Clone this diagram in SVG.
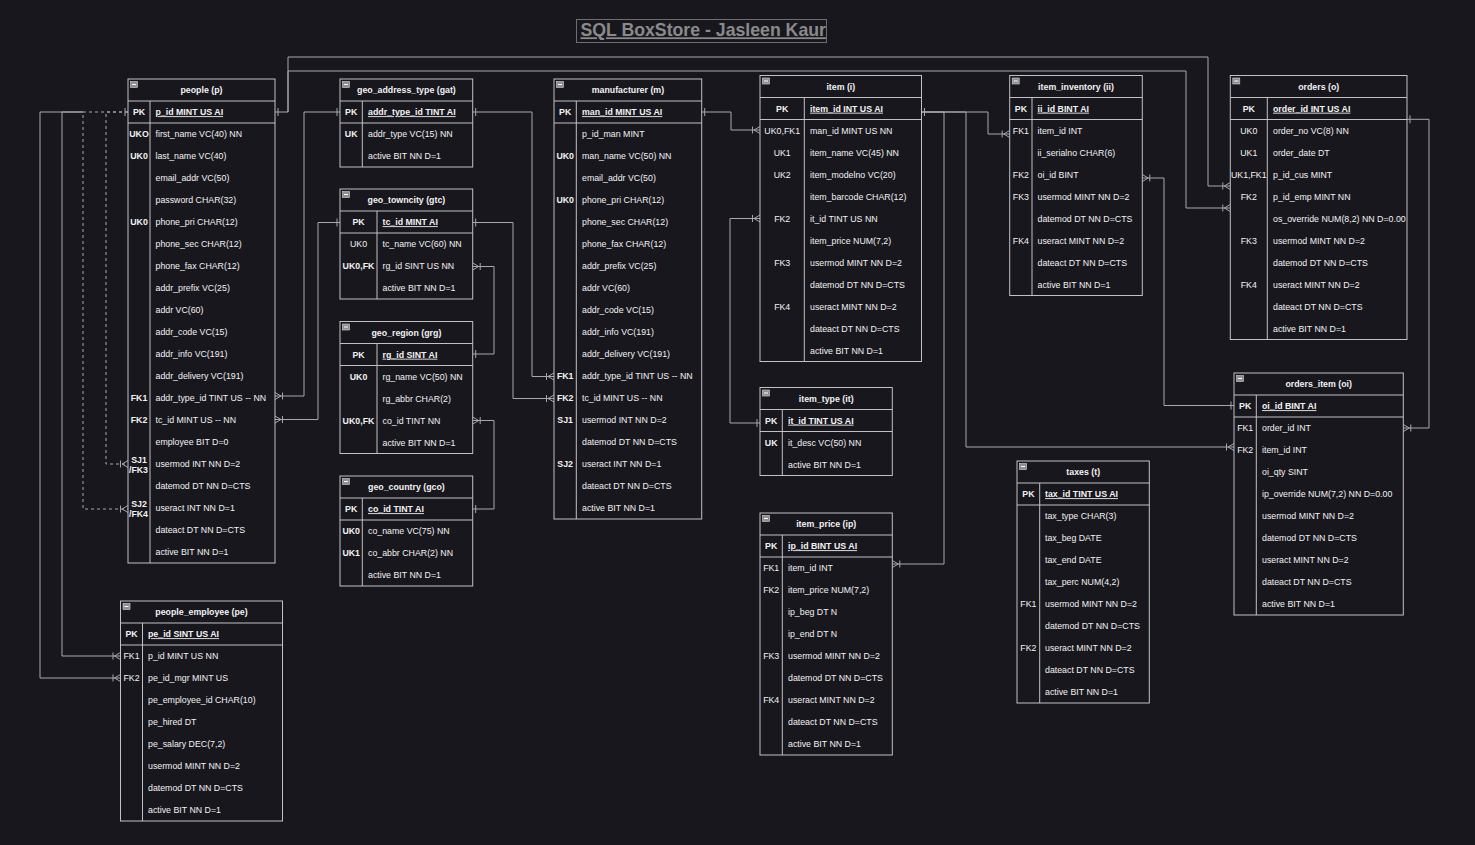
<svg xmlns="http://www.w3.org/2000/svg" xmlns:xlink="http://www.w3.org/1999/xlink" width="1475" height="845" viewBox="0 0 1475 845">
<style>
.bg{fill:#19171e}
.tb{fill:#19171e;stroke:#c2c2c2;stroke-width:1}
.ln{fill:none;stroke:#c2c2c2;stroke-width:1}
.t{font-family:"Liberation Sans",Arial,Helvetica,sans-serif;font-size:8.8px;fill:#f2f2f2}
.b{font-weight:bold}
.u{text-decoration:underline}
.c{text-anchor:middle}
.cn{fill:none;stroke:#a8a8a8;stroke-width:1}
.d{stroke-dasharray:3 3}
.mk{fill:none;stroke:#a8a8a8;stroke-width:1}
.title{font-family:"Liberation Sans",Arial,Helvetica,sans-serif;font-size:17.7px;font-weight:bold;fill:#8a8a8a;text-decoration:underline}
</style>
<defs>
<marker id="many" viewBox="0 0 12 10" refX="12" refY="5" markerWidth="12" markerHeight="10" markerUnits="userSpaceOnUse" orient="auto">
<path class="mk" d="M6,5 L12,1.5 M6,5 L12,8.5 M4.5,1.5 V8.5"/>
</marker>
<marker id="one" viewBox="0 0 12 10" refX="12" refY="5" markerWidth="12" markerHeight="10" markerUnits="userSpaceOnUse" orient="auto-start-reverse">
<path class="mk" d="M9,1 V9"/>
</marker>
<g id="ci"><rect x="0" y="0" width="7" height="6" fill="#8e8e8e" stroke="#d6d6d6" stroke-width="0.6"/><path d="M1.5,3 H5.5" stroke="#ffffff" stroke-width="1"/></g>
</defs>
<rect class="bg" x="0" y="0" width="1475" height="845"/>

<g id="title">
<rect x="576.5" y="19.5" width="250" height="23" fill="none" stroke="#6e6e6e" stroke-width="1"/>
<text class="title" x="580.5" y="36.3">SQL BoxStore - Jasleen Kaur</text>
</g>

<g id="connectors">
<path class="cn" marker-start="url(#one)" marker-end="url(#many)" d="M340,112 H304 V396 H275"/>
<path class="cn" marker-start="url(#one)" marker-end="url(#many)" d="M340,222.5 H318 V419.5 H275"/>
<path class="cn" marker-start="url(#one)" marker-end="url(#many)" d="M472.7,354 H494 V266.5 H472.7"/>
<path class="cn" marker-start="url(#one)" marker-end="url(#many)" d="M472.7,509 H494 V420.5 H472.7"/>
<path class="cn" marker-start="url(#one)" marker-end="url(#many)" d="M472.7,112 H532 V376.5 H554"/>
<path class="cn" marker-start="url(#one)" marker-end="url(#many)" d="M472.7,222.5 H513 V398.5 H554"/>
<path class="cn" marker-start="url(#one)" marker-end="url(#many)" d="M701.7,112 H731 V130 H760"/>
<path class="cn" marker-start="url(#one)" marker-end="url(#many)" d="M760,423 H730 V218.5 H760"/>
<path class="cn" marker-start="url(#one)" marker-end="url(#many)" d="M921.5,112 H988 V134 H1009.7"/>
<path class="cn" marker-end="url(#many)" d="M921.5,112 H944 V564 H892.3"/>
<path class="cn" marker-end="url(#many)" d="M921.5,112 H966 V447 H1234"/>
<path class="cn" marker-start="url(#one)" marker-end="url(#many)" d="M1234,405.5 H1164 V178 H1142.3"/>
<path class="cn" marker-start="url(#one)" marker-end="url(#many)" d="M1407,119.3 H1429 V428 H1403.3"/>
<path class="cn" marker-start="url(#one)" marker-end="url(#many)" d="M275,112 H288 V57 H1208 V186 H1230.3"/>
<path class="cn" marker-end="url(#many)" d="M288,112 V71 H1186 V208 H1230.3"/>
<path class="cn" marker-end="url(#many)" d="M83,112 H62 V656 H120.5"/>
<path class="cn" marker-end="url(#many)" d="M83,112 H40 V678 H120.5"/>
<path class="cn d" marker-start="url(#one)" marker-end="url(#many)" d="M128,112 H106 V464 H128"/>
<path class="cn d" marker-end="url(#many)" d="M128,112 H83 V509 H128"/>
</g>

<g id="people">
<rect class="tb" x="128" y="79" width="147" height="484"/>
<path class="ln" d="M128,101 H275 M128,123 H275 M150,101 V563"/>
<use xlink:href="#ci" x="130.5" y="81.5"/>
<text class="t b c" x="201.5" y="93.2">people (p)</text>
<text class="t b c" x="139" y="115.2">PK</text>
<text class="t b u" x="155.5" y="115.2">p_id MINT US AI</text>
<text class="t b c" x="139" y="137.2">UKO</text><text class="t" x="155.5" y="137.2">first_name VC(40) NN</text>
<text class="t b c" x="139" y="159.2">UK0</text><text class="t" x="155.5" y="159.2">last_name VC(40)</text>
<text class="t" x="155.5" y="181.2">email_addr VC(50)</text>
<text class="t" x="155.5" y="203.2">password CHAR(32)</text>
<text class="t b c" x="139" y="225.2">UK0</text><text class="t" x="155.5" y="225.2">phone_pri CHAR(12)</text>
<text class="t" x="155.5" y="247.2">phone_sec CHAR(12)</text>
<text class="t" x="155.5" y="269.2">phone_fax CHAR(12)</text>
<text class="t" x="155.5" y="291.2">addr_prefix VC(25)</text>
<text class="t" x="155.5" y="313.2">addr VC(60)</text>
<text class="t" x="155.5" y="335.2">addr_code VC(15)</text>
<text class="t" x="155.5" y="357.2">addr_info VC(191)</text>
<text class="t" x="155.5" y="379.2">addr_delivery VC(191)</text>
<text class="t b c" x="139" y="401.2">FK1</text><text class="t" x="155.5" y="401.2">addr_type_id TINT US -- NN</text>
<text class="t b c" x="139" y="423.2">FK2</text><text class="t" x="155.5" y="423.2">tc_id MINT US -- NN</text>
<text class="t" x="155.5" y="445.2">employee BIT D=0</text>
<text class="t b c" x="139" y="462.9">SJ1</text><text class="t b c" x="138.5" y="472.5">/FK3</text><text class="t" x="155.5" y="467.2">usermod INT NN D=2</text>
<text class="t" x="155.5" y="489.2">datemod DT NN D=CTS</text>
<text class="t b c" x="139" y="506.5">SJ2</text><text class="t b c" x="138.5" y="517.2">/FK4</text><text class="t" x="155.5" y="511.2">useract INT NN D=1</text>
<text class="t" x="155.5" y="533.2">dateact DT NN D=CTS</text>
<text class="t" x="155.5" y="555.2">active BIT NN D=1</text>
</g>

<g id="people_employee">
<rect class="tb" x="120.5" y="601" width="162" height="220"/>
<path class="ln" d="M120.5,623 H282.5 M120.5,645 H282.5 M142.5,623 V821"/>
<use xlink:href="#ci" x="123" y="603.5"/>
<text class="t b c" x="201.5" y="615.2">people_employee (pe)</text>
<text class="t b c" x="131.5" y="637.2">PK</text>
<text class="t b u" x="148" y="637.2">pe_id SINT US AI</text>
<text class="t c" x="131.5" y="659.2">FK1</text><text class="t" x="148" y="659.2">p_id MINT US NN</text>
<text class="t c" x="131.5" y="681.2">FK2</text><text class="t" x="148" y="681.2">pe_id_mgr MINT US</text>
<text class="t" x="148" y="703.2">pe_employee_id CHAR(10)</text>
<text class="t" x="148" y="725.2">pe_hired DT</text>
<text class="t" x="148" y="747.2">pe_salary DEC(7,2)</text>
<text class="t" x="148" y="769.2">usermod MINT NN D=2</text>
<text class="t" x="148" y="791.2">datemod DT NN D=CTS</text>
<text class="t" x="148" y="813.2">active BIT NN D=1</text>
</g>

<g id="geo_address_type">
<rect class="tb" x="340" y="79" width="132.7" height="88"/>
<path class="ln" d="M340,101 H472.7 M340,123 H472.7 M362.3,101 V167"/>
<use xlink:href="#ci" x="342.5" y="81.5"/>
<text class="t b c" x="406.4" y="93.2">geo_address_type (gat)</text>
<text class="t b c" x="351.2" y="115.2">PK</text>
<text class="t b u" x="368" y="115.2">addr_type_id TINT AI</text>
<text class="t b c" x="351.2" y="137.2">UK</text><text class="t" x="368" y="137.2">addr_type VC(15) NN</text>
<text class="t" x="368" y="159.2">active BIT NN D=1</text>
</g>

<g id="geo_towncity">
<rect class="tb" x="340" y="189" width="132.7" height="110"/>
<path class="ln" d="M340,211 H472.7 M340,233 H472.7 M377,211 V299"/>
<use xlink:href="#ci" x="342.5" y="191.5"/>
<text class="t b c" x="406.4" y="203.2">geo_towncity (gtc)</text>
<text class="t b c" x="358.5" y="225.2">PK</text>
<text class="t b u" x="382.5" y="225.2">tc_id MINT AI</text>
<text class="t c" x="358.5" y="247.2">UK0</text><text class="t" x="382.5" y="247.2">tc_name VC(60) NN</text>
<text class="t b c" x="358.5" y="269.2">UK0,FK</text><text class="t" x="382.5" y="269.2">rg_id SINT US NN</text>
<text class="t" x="382.5" y="291.2">active BIT NN D=1</text>
</g>

<g id="geo_region">
<rect class="tb" x="340" y="321.5" width="132.7" height="132"/>
<path class="ln" d="M340,343.5 H472.7 M340,365.5 H472.7 M377,343.5 V453.5"/>
<use xlink:href="#ci" x="342.5" y="324"/>
<text class="t b c" x="406.4" y="335.7">geo_region (grg)</text>
<text class="t b c" x="358.5" y="357.7">PK</text>
<text class="t b u" x="382.5" y="357.7">rg_id SINT AI</text>
<text class="t b c" x="358.5" y="379.7">UK0</text><text class="t" x="382.5" y="379.7">rg_name VC(50) NN</text>
<text class="t" x="382.5" y="401.7">rg_abbr CHAR(2)</text>
<text class="t b c" x="358.5" y="423.7">UK0,FK</text><text class="t" x="382.5" y="423.7">co_id TINT NN</text>
<text class="t" x="382.5" y="445.7">active BIT NN D=1</text>
</g>

<g id="geo_country">
<rect class="tb" x="340" y="476" width="132.7" height="110"/>
<path class="ln" d="M340,498 H472.7 M340,520 H472.7 M362.3,498 V586"/>
<use xlink:href="#ci" x="342.5" y="478.5"/>
<text class="t b c" x="406.4" y="490.2">geo_country (gco)</text>
<text class="t b c" x="351.2" y="512.2">PK</text>
<text class="t b u" x="368" y="512.2">co_id TINT AI</text>
<text class="t b c" x="351.2" y="534.2">UK0</text><text class="t" x="368" y="534.2">co_name VC(75) NN</text>
<text class="t b c" x="351.2" y="556.2">UK1</text><text class="t" x="368" y="556.2">co_abbr CHAR(2) NN</text>
<text class="t" x="368" y="578.2">active BIT NN D=1</text>
</g>

<g id="manufacturer">
<rect class="tb" x="554" y="79" width="147.7" height="440"/>
<path class="ln" d="M554,101 H701.7 M554,123 H701.7 M576.3,101 V519"/>
<use xlink:href="#ci" x="556.5" y="81.5"/>
<text class="t b c" x="627.9" y="93.2">manufacturer (m)</text>
<text class="t b c" x="565.2" y="115.2">PK</text>
<text class="t b u" x="582" y="115.2">man_id MINT US AI</text>
<text class="t" x="582" y="137.2">p_id_man MINT</text>
<text class="t b c" x="565.2" y="159.2">UK0</text><text class="t" x="582" y="159.2">man_name VC(50) NN</text>
<text class="t" x="582" y="181.2">email_addr VC(50)</text>
<text class="t b c" x="565.2" y="203.2">UK0</text><text class="t" x="582" y="203.2">phone_pri CHAR(12)</text>
<text class="t" x="582" y="225.2">phone_sec CHAR(12)</text>
<text class="t" x="582" y="247.2">phone_fax CHAR(12)</text>
<text class="t" x="582" y="269.2">addr_prefix VC(25)</text>
<text class="t" x="582" y="291.2">addr VC(60)</text>
<text class="t" x="582" y="313.2">addr_code VC(15)</text>
<text class="t" x="582" y="335.2">addr_info VC(191)</text>
<text class="t" x="582" y="357.2">addr_delivery VC(191)</text>
<text class="t b c" x="565.2" y="379.2">FK1</text><text class="t" x="582" y="379.2">addr_type_id TINT US -- NN</text>
<text class="t b c" x="565.2" y="401.2">FK2</text><text class="t" x="582" y="401.2">tc_id MINT US -- NN</text>
<text class="t b c" x="565.2" y="423.2">SJ1</text><text class="t" x="582" y="423.2">usermod INT NN D=2</text>
<text class="t" x="582" y="445.2">datemod DT NN D=CTS</text>
<text class="t b c" x="565.2" y="467.2">SJ2</text><text class="t" x="582" y="467.2">useract INT NN D=1</text>
<text class="t" x="582" y="489.2">dateact DT NN D=CTS</text>
<text class="t" x="582" y="511.2">active BIT NN D=1</text>
</g>

<g id="item">
<rect class="tb" x="760" y="75.5" width="161.5" height="286"/>
<path class="ln" d="M760,97.5 H921.5 M760,119.5 H921.5 M804.3,97.5 V361.5"/>
<use xlink:href="#ci" x="762.5" y="78"/>
<text class="t b c" x="840.8" y="89.7">item (i)</text>
<text class="t b c" x="782.2" y="111.7">PK</text>
<text class="t b u" x="810" y="111.7">item_id INT US AI</text>
<text class="t c" x="782.2" y="133.7">UK0,FK1</text><text class="t" x="810" y="133.7">man_id MINT US NN</text>
<text class="t c" x="782.2" y="155.7">UK1</text><text class="t" x="810" y="155.7">item_name VC(45) NN</text>
<text class="t c" x="782.2" y="177.7">UK2</text><text class="t" x="810" y="177.7">item_modelno VC(20)</text>
<text class="t" x="810" y="199.7">item_barcode CHAR(12)</text>
<text class="t c" x="782.2" y="221.7">FK2</text><text class="t" x="810" y="221.7">it_id TINT US NN</text>
<text class="t" x="810" y="243.7">item_price NUM(7,2)</text>
<text class="t c" x="782.2" y="265.7">FK3</text><text class="t" x="810" y="265.7">usermod MINT NN D=2</text>
<text class="t" x="810" y="287.7">datemod DT NN D=CTS</text>
<text class="t c" x="782.2" y="309.7">FK4</text><text class="t" x="810" y="309.7">useract MINT NN D=2</text>
<text class="t" x="810" y="331.7">dateact DT NN D=CTS</text>
<text class="t" x="810" y="353.7">active BIT NN D=1</text>
</g>

<g id="item_type">
<rect class="tb" x="760" y="387.5" width="132.3" height="88"/>
<path class="ln" d="M760,409.5 H892.3 M760,431.5 H892.3 M782.3,409.5 V475.5"/>
<use xlink:href="#ci" x="762.5" y="390"/>
<text class="t b c" x="826.2" y="401.7">item_type (it)</text>
<text class="t b c" x="771.2" y="423.7">PK</text>
<text class="t b u" x="788" y="423.7">it_id TINT US AI</text>
<text class="t b c" x="771.2" y="445.7">UK</text><text class="t" x="788" y="445.7">it_desc VC(50) NN</text>
<text class="t" x="788" y="467.7">active BIT NN D=1</text>
</g>

<g id="item_price">
<rect class="tb" x="760" y="513" width="132.3" height="242"/>
<path class="ln" d="M760,535 H892.3 M760,557 H892.3 M782.3,535 V755"/>
<use xlink:href="#ci" x="762.5" y="515.5"/>
<text class="t b c" x="826.2" y="527.2">item_price (ip)</text>
<text class="t b c" x="771.2" y="549.2">PK</text>
<text class="t b u" x="788" y="549.2">ip_id BINT US AI</text>
<text class="t c" x="771.2" y="571.2">FK1</text><text class="t" x="788" y="571.2">item_id INT</text>
<text class="t c" x="771.2" y="593.2">FK2</text><text class="t" x="788" y="593.2">item_price NUM(7,2)</text>
<text class="t" x="788" y="615.2">ip_beg DT N</text>
<text class="t" x="788" y="637.2">ip_end DT N</text>
<text class="t c" x="771.2" y="659.2">FK3</text><text class="t" x="788" y="659.2">usermod MINT NN D=2</text>
<text class="t" x="788" y="681.2">datemod DT NN D=CTS</text>
<text class="t c" x="771.2" y="703.2">FK4</text><text class="t" x="788" y="703.2">useract MINT NN D=2</text>
<text class="t" x="788" y="725.2">dateact DT NN D=CTS</text>
<text class="t" x="788" y="747.2">active BIT NN D=1</text>
</g>

<g id="taxes">
<rect class="tb" x="1017" y="461" width="132.3" height="242"/>
<path class="ln" d="M1017,483 H1149.3 M1017,505 H1149.3 M1039.7,483 V703"/>
<use xlink:href="#ci" x="1019.5" y="463.5"/>
<text class="t b c" x="1083.2" y="475.2">taxes (t)</text>
<text class="t b c" x="1028.4" y="497.2">PK</text>
<text class="t b u" x="1045" y="497.2">tax_id TINT US AI</text>
<text class="t" x="1045" y="519.2">tax_type CHAR(3)</text>
<text class="t" x="1045" y="541.2">tax_beg DATE</text>
<text class="t" x="1045" y="563.2">tax_end DATE</text>
<text class="t" x="1045" y="585.2">tax_perc NUM(4,2)</text>
<text class="t c" x="1028.4" y="607.2">FK1</text><text class="t" x="1045" y="607.2">usermod MINT NN D=2</text>
<text class="t" x="1045" y="629.2">datemod DT NN D=CTS</text>
<text class="t c" x="1028.4" y="651.2">FK2</text><text class="t" x="1045" y="651.2">useract MINT NN D=2</text>
<text class="t" x="1045" y="673.2">dateact DT NN D=CTS</text>
<text class="t" x="1045" y="695.2">active BIT NN D=1</text>
</g>

<g id="item_inventory">
<rect class="tb" x="1009.7" y="75.5" width="132.6" height="220"/>
<path class="ln" d="M1009.7,97.5 H1142.3 M1009.7,119.5 H1142.3 M1032,97.5 V295.5"/>
<use xlink:href="#ci" x="1012.2" y="78"/>
<text class="t b c" x="1076" y="89.7">item_inventory (ii)</text>
<text class="t b c" x="1020.9" y="111.7">PK</text>
<text class="t b u" x="1037.5" y="111.7">ii_id BINT AI</text>
<text class="t c" x="1020.9" y="133.7">FK1</text><text class="t" x="1037.5" y="133.7">item_id INT</text>
<text class="t" x="1037.5" y="155.7">ii_serialno CHAR(6)</text>
<text class="t c" x="1020.9" y="177.7">FK2</text><text class="t" x="1037.5" y="177.7">oi_id BINT</text>
<text class="t c" x="1020.9" y="199.7">FK3</text><text class="t" x="1037.5" y="199.7">usermod MINT NN D=2</text>
<text class="t" x="1037.5" y="221.7">datemod DT NN D=CTS</text>
<text class="t c" x="1020.9" y="243.7">FK4</text><text class="t" x="1037.5" y="243.7">useract MINT NN D=2</text>
<text class="t" x="1037.5" y="265.7">dateact DT NN D=CTS</text>
<text class="t" x="1037.5" y="287.7">active BIT NN D=1</text>
</g>

<g id="orders">
<rect class="tb" x="1230.3" y="75.5" width="176.7" height="264"/>
<path class="ln" d="M1230.3,97.5 H1407 M1230.3,119.5 H1407 M1267.3,97.5 V339.5"/>
<use xlink:href="#ci" x="1232.8" y="78"/>
<text class="t b c" x="1318.7" y="89.7">orders (o)</text>
<text class="t b c" x="1248.8" y="111.7">PK</text>
<text class="t b u" x="1273" y="111.7">order_id INT US AI</text>
<text class="t c" x="1248.8" y="133.7">UK0</text><text class="t" x="1273" y="133.7">order_no VC(8) NN</text>
<text class="t c" x="1248.8" y="155.7">UK1</text><text class="t" x="1273" y="155.7">order_date DT</text>
<text class="t c" x="1248.8" y="177.7">UK1,FK1</text><text class="t" x="1273" y="177.7">p_id_cus MINT</text>
<text class="t c" x="1248.8" y="199.7">FK2</text><text class="t" x="1273" y="199.7">p_id_emp MINT NN</text>
<text class="t" x="1273" y="221.7">os_override NUM(8,2) NN D=0.00</text>
<text class="t c" x="1248.8" y="243.7">FK3</text><text class="t" x="1273" y="243.7">usermod MINT NN D=2</text>
<text class="t" x="1273" y="265.7">datemod DT NN D=CTS</text>
<text class="t c" x="1248.8" y="287.7">FK4</text><text class="t" x="1273" y="287.7">useract MINT NN D=2</text>
<text class="t" x="1273" y="309.7">dateact DT NN D=CTS</text>
<text class="t" x="1273" y="331.7">active BIT NN D=1</text>
</g>

<g id="orders_item">
<rect class="tb" x="1234" y="373" width="169.3" height="242"/>
<path class="ln" d="M1234,395 H1403.3 M1234,417 H1403.3 M1256.3,395 V615"/>
<use xlink:href="#ci" x="1236.5" y="375.5"/>
<text class="t b c" x="1318.7" y="387.2">orders_item (oi)</text>
<text class="t b c" x="1245.2" y="409.2">PK</text>
<text class="t b u" x="1262" y="409.2">oi_id BINT AI</text>
<text class="t c" x="1245.2" y="431.2">FK1</text><text class="t" x="1262" y="431.2">order_id INT</text>
<text class="t c" x="1245.2" y="453.2">FK2</text><text class="t" x="1262" y="453.2">item_id INT</text>
<text class="t" x="1262" y="475.2">oi_qty SINT</text>
<text class="t" x="1262" y="497.2">ip_override NUM(7,2) NN D=0.00</text>
<text class="t" x="1262" y="519.2">usermod MINT NN D=2</text>
<text class="t" x="1262" y="541.2">datemod DT NN D=CTS</text>
<text class="t" x="1262" y="563.2">useract MINT NN D=2</text>
<text class="t" x="1262" y="585.2">dateact DT NN D=CTS</text>
<text class="t" x="1262" y="607.2">active BIT NN D=1</text>
</g>
</svg>
